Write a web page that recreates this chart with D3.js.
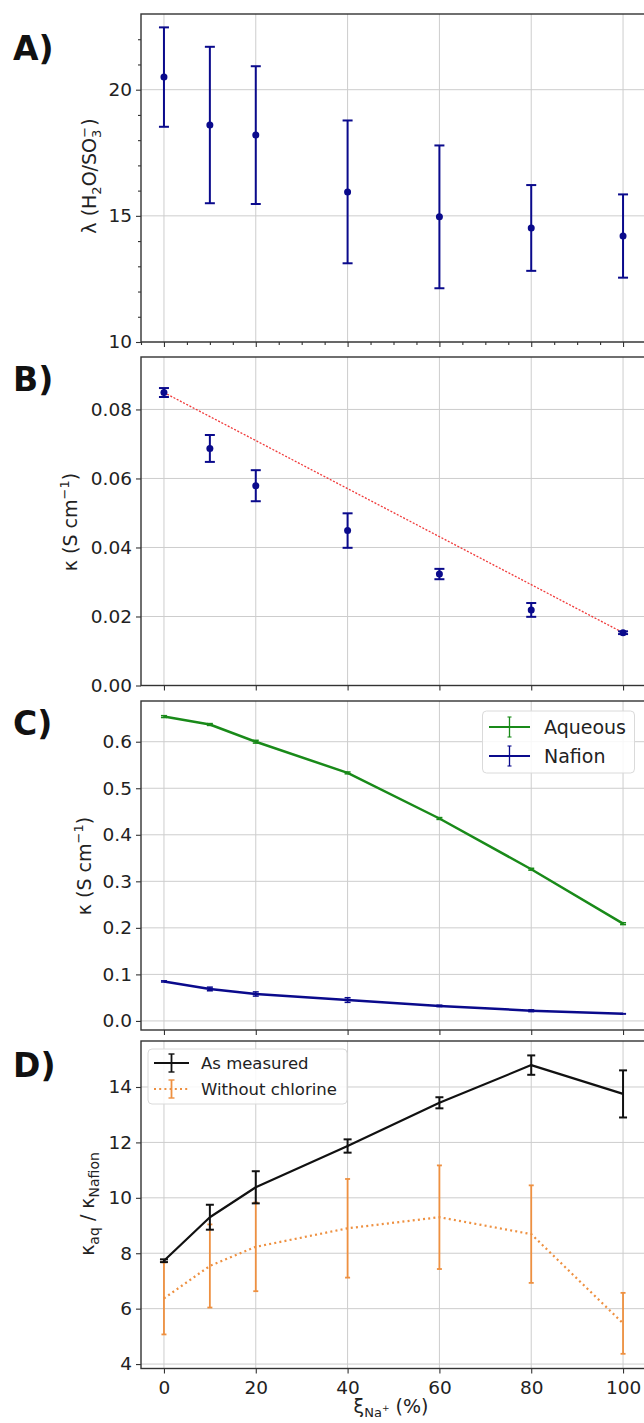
<!DOCTYPE html>
<html>
<head>
<meta charset="utf-8">
<script src="https://cdn.jsdelivr.net/npm/d3@7"></script>
<style>
  body { margin: 0; background: #fff; }
  text { font-family: "DejaVu Sans", sans-serif; fill: #222; }
</style>
</head>
<body>
<svg id="fig" width="644" height="1423"></svg>
<script>
// ---- data ----
var xi = [0, 10, 20, 40, 60, 80, 100];          // Na+ fraction (%)
var xTicks = [0, 20, 40, 60, 80, 100];

// A) water uptake
var lambdaVal = [20.5, 18.6, 18.2, 15.95, 14.96, 14.52, 14.2];
var lambdaErr = [1.97, 3.1, 2.73, 2.83, 2.83, 1.7, 1.65];

// B) membrane conductivity
var kNafion    = [0.0849, 0.0687, 0.0579, 0.0449, 0.0323, 0.0219, 0.0153];
var kNafionErr = [0.0013, 0.0039, 0.0045, 0.0050, 0.0015, 0.0020, 0.0004];
var mixX = [0, 100];                            // linear mixing reference
var mixK = [0.0849, 0.0153];

// C) aqueous vs Nafion
var kAqueous    = [0.654, 0.637, 0.600, 0.533, 0.435, 0.326, 0.209];
var kAqueousErr = [0.002, 0.002, 0.003, 0.002, 0.002, 0.002, 0.002];

// D) ratio
var ratioMeasured    = [7.73, 9.30, 10.38, 11.87, 13.43, 14.79, 13.75];
var ratioMeasuredErr = [0.05, 0.45, 0.58, 0.24, 0.20, 0.35, 0.85];
var ratioNoCl    = [6.37, 7.54, 8.23, 8.90, 9.30, 8.69, 5.47];
var ratioNoClErr = [1.30, 1.50, 1.60, 1.78, 1.87, 1.76, 1.10];

var NAVY = "#0a0a8c", GREEN = "#198a19", ORANGE = "#ee9040";

var svg = d3.select("#fig");
var x = d3.scaleLinear().domain([-5, 105]).range([141, 646]);

// rich text helper for mathtext-like labels
function rich(g, parts) {
  parts.forEach(function(p) {
    g.append("tspan")
      .attr("dx", p.dx || 0)
      .attr("dy", p.dy || 0)
      .attr("font-size", p.s || 19)
      .text(p.t);
  });
  return g;
}

function panel(o) {
  var y = d3.scaleLinear().domain(o.ydom).range([o.bottom, o.top]);
  var g = svg.append("g");

  // grid
  g.selectAll(".gx").data(xTicks).enter().append("line")
    .attr("x1", function(d) { return x(d); }).attr("x2", function(d) { return x(d); })
    .attr("y1", o.top).attr("y2", o.bottom)
    .attr("stroke", "#cdcdcd").attr("stroke-width", 1);
  g.selectAll(".gy").data(o.ticks).enter().append("line")
    .attr("x1", x.range()[0]).attr("x2", x.range()[1])
    .attr("y1", function(d) { return y(d); }).attr("y2", function(d) { return y(d); })
    .attr("stroke", "#cdcdcd").attr("stroke-width", 1);

  // axes
  g.append("g").attr("transform", "translate(" + x.range()[0] + ",0)")
    .call(d3.axisLeft(y).tickValues(o.ticks).tickFormat(o.fmt).tickSize(5).tickPadding(4));
  g.append("g").attr("transform", "translate(0," + o.bottom + ")")
    .call(d3.axisBottom(x).tickValues(xTicks).tickSize(5).tickPadding(7)
      .tickFormat(o.xlabels ? d3.format("d") : ""));
  if (o.minorY) {
    g.append("g").attr("transform", "translate(" + x.range()[0] + ",0)")
      .call(d3.axisLeft(y).tickValues(o.minorY).tickSize(3).tickFormat(""));
    g.append("g").attr("transform", "translate(0," + o.bottom + ")")
      .call(d3.axisBottom(x).tickValues(o.minorX).tickSize(3).tickFormat(""));
  }
  g.selectAll(".domain").remove();
  g.selectAll(".tick line").attr("stroke", "#333").attr("stroke-width", 1.1);
  g.selectAll(".tick text").attr("font-size", 18.5).attr("fill", "#222");

  // frame
  g.append("rect").attr("x", x.range()[0]).attr("y", o.top)
    .attr("width", x.range()[1] - x.range()[0]).attr("height", o.bottom - o.top)
    .attr("fill", "none").attr("stroke", "#333").attr("stroke-width", 1.4);

  // panel letter
  svg.append("text").attr("x", 13).attr("y", o.letterY)
    .attr("font-family", "Lato, 'Open Sans', sans-serif")
    .attr("font-weight", 900).attr("font-size", 33).style("fill", "#111")
    .text(o.letter);

  return {g: g, y: y};
}

function errorbars(p, vals, errs, color, cap, lw) {
  var pts = xi.map(function(d, i) { return {x: d, v: vals[i], e: errs[i]}; });
  var eb = p.g.append("g").attr("stroke", color).attr("stroke-width", lw);
  eb.selectAll(".v").data(pts).enter().append("line")
    .attr("x1", function(d) { return x(d.x); }).attr("x2", function(d) { return x(d.x); })
    .attr("y1", function(d) { return p.y(d.v - d.e); }).attr("y2", function(d) { return p.y(d.v + d.e); });
  [-1, 1].forEach(function(s) {
    eb.selectAll(".c" + s).data(pts).enter().append("line")
      .attr("x1", function(d) { return x(d.x) - cap; }).attr("x2", function(d) { return x(d.x) + cap; })
      .attr("y1", function(d) { return p.y(d.v + s * d.e); }).attr("y2", function(d) { return p.y(d.v + s * d.e); });
  });
  return pts;
}

function dots(p, pts, color, r) {
  p.g.selectAll(null).data(pts).enter().append("circle")
    .attr("cx", function(d) { return x(d.x); }).attr("cy", function(d) { return p.y(d.v); })
    .attr("r", r).attr("fill", color);
}

function line(p, vals, color, lw, dash) {
  var ln = d3.line().x(function(d, i) { return x(xi[i]); }).y(function(d) { return p.y(d); });
  p.g.append("path").attr("d", ln(vals)).attr("fill", "none")
    .attr("stroke", color).attr("stroke-width", lw)
    .attr("stroke-dasharray", dash || null).attr("stroke-linejoin", "round");
}

// ---------- A ----------
var pA = panel({letter: "A)", letterY: 60, top: 14, bottom: 342, ydom: [10, 23],
  ticks: [10, 15, 20], fmt: d3.format("d"),
  minorY: d3.range(11, 23).filter(function(v) { return v % 5; }),
  minorX: d3.range(-5, 106, 5).filter(function(v) { return v % 20; })});
dots(pA, errorbars(pA, lambdaVal, lambdaErr, NAVY, 5, 2), NAVY, 3.5);
rich(svg.append("text").attr("transform", "translate(96,176) rotate(-90)").attr("text-anchor", "middle"),
  [{t: "λ (H"}, {t: "2", dy: 5, s: 13}, {t: "O/SO", dy: -5}, {t: "3", dy: 5, s: 13},
   {t: "−", dx: -8, dy: -12, s: 13}, {t: ")", dy: 7, dx: 1}]);

// ---------- B ----------
var pB = panel({letter: "B)", letterY: 391, top: 357, bottom: 685.5, ydom: [0, 0.0952],
  ticks: [0, 0.02, 0.04, 0.06, 0.08], fmt: d3.format(".2f")});
var mixLine = d3.line().x(function(d, i) { return x(mixX[i]); }).y(function(d) { return pB.y(d); });
pB.g.append("path").attr("d", mixLine(mixK)).attr("fill", "none")
  .attr("stroke", "#f03a3a").attr("stroke-width", 1.3).attr("stroke-dasharray", "2,1.6");
dots(pB, errorbars(pB, kNafion, kNafionErr, NAVY, 5, 2), NAVY, 3.5);
rich(svg.append("text").attr("transform", "translate(77,522) rotate(-90)").attr("text-anchor", "middle"),
  [{t: "κ (S cm"}, {t: "−1", dy: -8, s: 13}, {t: ")", dy: 8}]);

// ---------- C ----------
var pC = panel({letter: "C)", letterY: 735, top: 701, bottom: 1030, ydom: [-0.0195, 0.6875],
  ticks: [0, 0.1, 0.2, 0.3, 0.4, 0.5, 0.6], fmt: d3.format(".1f")});
line(pC, kAqueous, GREEN, 2.5);
errorbars(pC, kAqueous, kAqueousErr, GREEN, 3, 1.5);
line(pC, kNafion, NAVY, 2.5);
errorbars(pC, kNafion, kNafionErr, NAVY, 3, 1.5);
rich(svg.append("text").attr("transform", "translate(91,866) rotate(-90)").attr("text-anchor", "middle"),
  [{t: "κ (S cm"}, {t: "−1", dy: -8, s: 13}, {t: ")", dy: 8}]);

var legC = svg.append("g");
legC.append("rect").attr("x", 482.5).attr("y", 711).attr("width", 152).attr("height", 62)
  .attr("rx", 4).attr("fill", "#fff").attr("fill-opacity", 0.85).attr("stroke", "#dadada");
[{name: "Aqueous", c: GREEN, cy: 727}, {name: "Nafion", c: NAVY, cy: 756}].forEach(function(d) {
  legC.append("line").attr("x1", 489).attr("x2", 530).attr("y1", d.cy).attr("y2", d.cy)
    .attr("stroke", d.c).attr("stroke-width", 2.2);
  legC.append("line").attr("x1", 509.5).attr("x2", 509.5).attr("y1", d.cy - 10).attr("y2", d.cy + 10)
    .attr("stroke", d.c).attr("stroke-width", 1.3);
  [-10, 10].forEach(function(s) {
    legC.append("line").attr("x1", 507.5).attr("x2", 511.5).attr("y1", d.cy + s).attr("y2", d.cy + s)
      .attr("stroke", d.c).attr("stroke-width", 1.1);
  });
  legC.append("text").attr("x", 544).attr("y", d.cy + 7).attr("font-size", 19).text(d.name);
});

// ---------- D ----------
var pD = panel({letter: "D)", letterY: 1077, top: 1041, bottom: 1368.5, ydom: [3.84, 15.66],
  ticks: [4, 6, 8, 10, 12, 14], fmt: d3.format("d"), xlabels: true});
line(pD, ratioNoCl, ORANGE, 2.2, "2,3.2");
errorbars(pD, ratioNoCl, ratioNoClErr, ORANGE, 2.5, 1.8);
line(pD, ratioMeasured, "#111", 2.2);
errorbars(pD, ratioMeasured, ratioMeasuredErr, "#111", 4, 2);
rich(svg.append("text").attr("transform", "translate(94,1204) rotate(-90)").attr("text-anchor", "middle"),
  [{t: "κ"}, {t: "aq", dy: 5, s: 14}, {t: " / κ", dy: -5}, {t: "Nafion", dy: 5, s: 14}]);
rich(svg.append("text").attr("x", 391).attr("y", 1413).attr("text-anchor", "middle"),
  [{t: "ξ"}, {t: "Na", dy: 4, s: 13}, {t: "+", dy: -6, s: 9}, {t: " (%)", dy: 2}]);

var legD = svg.append("g");
legD.append("rect").attr("x", 148).attr("y", 1049).attr("width", 199).attr("height", 55)
  .attr("rx", 4).attr("fill", "#fff").attr("fill-opacity", 0.85).attr("stroke", "#dadada");
[{name: "As measured", c: "#111", cy: 1063, dash: null},
 {name: "Without chlorine", c: ORANGE, cy: 1089, dash: "2,3.2"}].forEach(function(d) {
  legD.append("line").attr("x1", 154).attr("x2", 189).attr("y1", d.cy).attr("y2", d.cy)
    .attr("stroke", d.c).attr("stroke-width", 2).attr("stroke-dasharray", d.dash);
  legD.append("line").attr("x1", 171.5).attr("x2", 171.5).attr("y1", d.cy - 9).attr("y2", d.cy + 9)
    .attr("stroke", d.c).attr("stroke-width", 1.8);
  [-9, 9].forEach(function(s) {
    legD.append("line").attr("x1", 168.5).attr("x2", 174.5).attr("y1", d.cy + s).attr("y2", d.cy + s)
      .attr("stroke", d.c).attr("stroke-width", 1.4);
  });
  legD.append("text").attr("x", 201).attr("y", d.cy + 6).attr("font-size", 16.5).text(d.name);
});
</script>
</body>
</html>
